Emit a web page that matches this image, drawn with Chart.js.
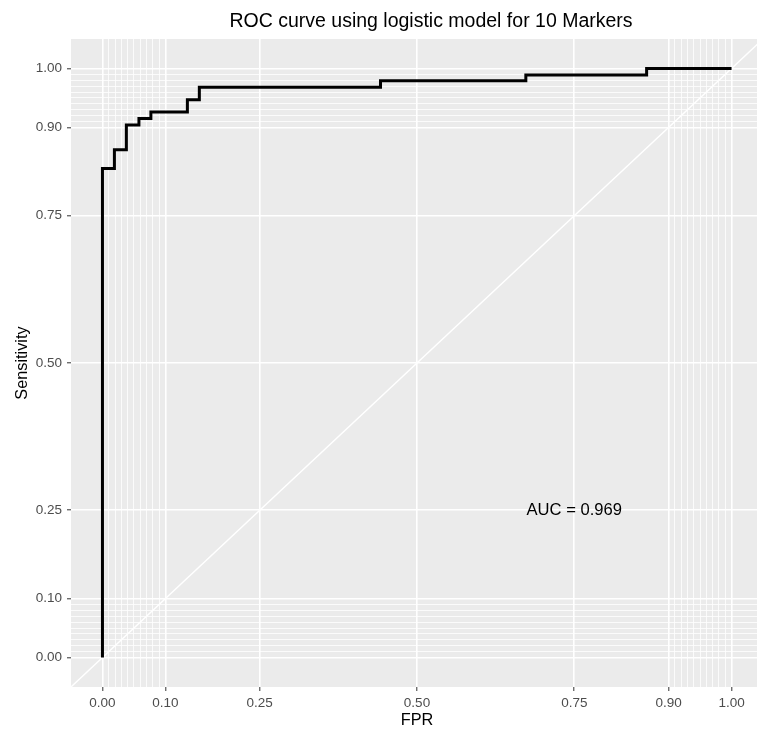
<!DOCTYPE html>
<html>
<head>
<meta charset="utf-8">
<script src="https://cdn.jsdelivr.net/npm/chart.js@4.4.1/dist/chart.umd.min.js"></script>
<style>
  html, body { margin: 0; padding: 0; background: #fff; overflow: hidden; }
  canvas { display: block; }
</style>
</head>
<body>
<canvas id="rocChart" width="862" height="731"></canvas>
<script>
// ROC step curve (false positive rate vs sensitivity)
const fpr = [0, 0, 0.019, 0.038, 0.058, 0.077, 0.135, 0.154, 0.442, 0.673, 0.865, 1];
const tpr = [0, 0.830, 0.862, 0.904, 0.915, 0.926, 0.947, 0.968, 0.979, 0.989, 1, 1];

// reference diagonal spans the whole panel
const diagonal = [-0.05, 1.05];

// axis breaks, same on both axes
const majorBreaks = [0, 0.1, 0.25, 0.5, 0.75, 0.9, 1];
const tickLabels = ['0.00', '0.10', '0.25', '0.50', '0.75', '0.90', '1.00'];
const minorBreaks = [0.01, 0.02, 0.03, 0.04, 0.05, 0.06, 0.07, 0.08, 0.09,
                     0.91, 0.92, 0.93, 0.94, 0.95, 0.96, 0.97, 0.98, 0.99];

const chartTitle = 'ROC curve using logistic model for 10 Markers';
const aucLabel = 'AUC = 0.969';
const aucAt = { x: 0.75, y: 0.25 };

const FONT = '"Liberation Sans", Arial, Helvetica, sans-serif';
const allBreaks = majorBreaks.concat(minorBreaks).sort((a, b) => a - b);
const isMajor = v => majorBreaks.indexOf(v) >= 0;

// grey ggplot-style panel behind the grid
const panelBg = {
    id: 'panelBg',
    beforeDraw(chart) {
        const { ctx, chartArea: a } = chart;
        ctx.save();
        ctx.fillStyle = '#ebebeb';
        ctx.fillRect(a.left, a.top, a.right - a.left, a.bottom - a.top);
        ctx.restore();
    }
};

// main title and the AUC annotation
const labels = {
    id: 'labels',
    afterDatasetsDraw(chart) {
        const { ctx, scales } = chart;
        ctx.save();
        ctx.fillStyle = '#000';
        ctx.textAlign = 'center';
        ctx.textBaseline = 'middle';
        ctx.font = '16.6px ' + FONT;
        ctx.fillText(aucLabel, scales.x.getPixelForValue(aucAt.x), scales.y.getPixelForValue(aucAt.y));
        ctx.font = '19.5px ' + FONT;
        ctx.textBaseline = 'alphabetic';
        ctx.fillText(chartTitle, 431, 27);
        ctx.restore();
    }
};

function axis(title, horizontal) {
    return {
        type: 'linear',
        min: -0.05,
        max: 1.05,
        afterBuildTicks: s => { s.ticks = allBreaks.map(v => ({ value: v })); },
        afterFit: s => { if (horizontal) s.height = 44; else s.width = 71; },
        border: { display: false },
        grid: {
            color: '#ffffff',
            lineWidth: c => (c.tick && isMajor(c.tick.value)) ? 1.6 : 0.8,
            tickColor: c => (c.tick && isMajor(c.tick.value)) ? '#333333' : 'rgba(0,0,0,0)',
            tickWidth: 1,
            tickLength: 4,
            drawTicks: true
        },
        ticks: {
            autoSkip: false,
            maxRotation: 0,
            padding: horizontal ? 4 : 5,
            color: '#4d4d4d',
            font: { family: FONT, size: 13.5 },
            callback: v => {
                const i = majorBreaks.indexOf(v);
                return i >= 0 ? tickLabels[i] : '';
            }
        },
        title: {
            display: true,
            text: title,
            color: '#000',
            font: { family: FONT, size: 16.3 },
            padding: horizontal ? { top: 0, bottom: 1 } : { top: 12.7, bottom: 0 }
        }
    };
}

new Chart(document.getElementById('rocChart').getContext('2d'), {
    type: 'line',
    data: {
        datasets: [
            {
                data: fpr.map((x, i) => ({ x: x, y: tpr[i] })),
                borderColor: '#000000',
                borderWidth: 3,
                stepped: 'before',
                pointRadius: 0,
                fill: false,
                order: 1
            },
            {
                data: diagonal.map(v => ({ x: v, y: v })),
                borderColor: '#ffffff',
                borderWidth: 1.4,
                pointRadius: 0,
                fill: false,
                order: 2
            }
        ]
    },
    options: {
        responsive: false,
        animation: false,
        layout: { padding: { top: 39, right: 99, bottom: 0, left: 0 } },
        plugins: {
            legend: { display: false },
            tooltip: { enabled: false },
            title: { display: false }
        },
        scales: {
            x: axis('FPR', true),
            y: axis('Sensitivity', false)
        }
    },
    plugins: [panelBg, labels]
});
</script>
</body>
</html>
